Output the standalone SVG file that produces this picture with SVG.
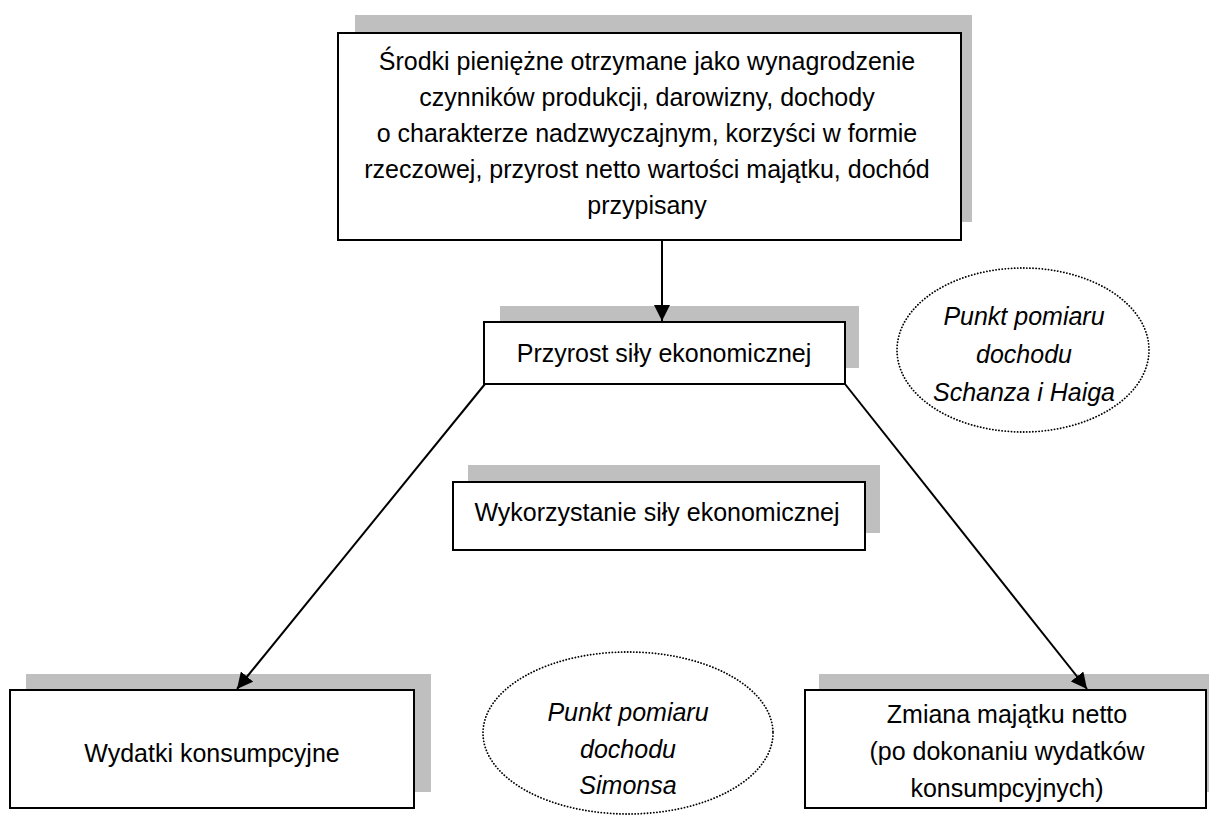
<svg xmlns="http://www.w3.org/2000/svg" width="1209" height="820" viewBox="0 0 1209 820">
<defs>
<style>
.sh{fill:#bfbfbf}
.bx{fill:#fff;stroke:#000;stroke-width:2}
.t{font-family:"Liberation Sans",Arial,sans-serif;font-size:25px;fill:#000;text-anchor:middle}
.it{font-style:italic}
.el{fill:none;stroke:#000;stroke-width:1.8;stroke-dasharray:0.1 3;stroke-linecap:round}
.cn{stroke:#000;stroke-width:2;fill:none}
</style>
<marker id="ah" viewBox="0 0 10 10" refX="10" refY="5" markerWidth="8" markerHeight="8" markerUnits="strokeWidth" orient="auto">
<path d="M0,0 L10,5 L0,10 Z" fill="#000"/>
</marker>
</defs>
<rect width="1209" height="820" fill="#fff"/>
<g id="top">
<rect class="sh" x="355" y="15" width="617" height="207"/>
<rect class="bx" x="338" y="33" width="623" height="207"/>
<text class="t" x="647" y="70">Środki pieniężne otrzymane jako wynagrodzenie</text>
<text class="t" x="647" y="106">czynników produkcji, darowizny, dochody</text>
<text class="t" x="647" y="142">o charakterze nadzwyczajnym, korzyści w formie</text>
<text class="t" x="647" y="178">rzeczowej, przyrost netto wartości majątku, dochód</text>
<text class="t" x="647" y="214">przypisany</text>
</g>
<g id="przyrost">
<rect class="sh" x="500" y="306" width="359" height="62"/>
<rect class="bx" x="484" y="322" width="361" height="62"/>
<text class="t" x="664" y="362">Przyrost siły ekonomicznej</text>
</g>
<g id="wykorzystanie">
<rect class="sh" x="468" y="465" width="412" height="68"/>
<rect class="bx" x="453" y="482" width="412" height="68"/>
<text class="t" x="657" y="521">Wykorzystanie siły ekonomicznej</text>
</g>
<g id="wydatki">
<rect class="sh" x="26" y="674" width="405" height="118"/>
<rect class="bx" x="10" y="690" width="404" height="118"/>
<text class="t" x="212" y="762">Wydatki konsumpcyjne</text>
</g>
<g id="zmiana">
<rect class="sh" x="819" y="674" width="390" height="118"/>
<rect class="bx" x="805" y="690" width="401" height="118"/>
<text class="t" x="1007" y="723">Zmiana majątku netto</text>
<text class="t" x="1007" y="760">(po dokonaniu wydatków</text>
<text class="t" x="1007" y="797">konsumpcyjnych)</text>
</g>
<g id="schanz">
<ellipse class="el" cx="1023" cy="350" rx="126" ry="82"/>
<text class="t it" x="1024" y="325">Punkt pomiaru</text>
<text class="t it" x="1024" y="363">dochodu</text>
<text class="t it" x="1024" y="401">Schanza i Haiga</text>
</g>
<g id="simons">
<ellipse class="el" cx="628" cy="733" rx="145" ry="81"/>
<text class="t it" x="628" y="721">Punkt pomiaru</text>
<text class="t it" x="628" y="758">dochodu</text>
<text class="t it" x="628" y="794">Simonsa</text>
</g>
<g id="connectors">
<line class="cn" x1="662" y1="240" x2="662" y2="321" marker-end="url(#ah)"/>
<line class="cn" x1="485" y1="384" x2="237" y2="689" marker-end="url(#ah)"/>
<line class="cn" x1="845" y1="384" x2="1087" y2="689" marker-end="url(#ah)"/>
</g>
</svg>
